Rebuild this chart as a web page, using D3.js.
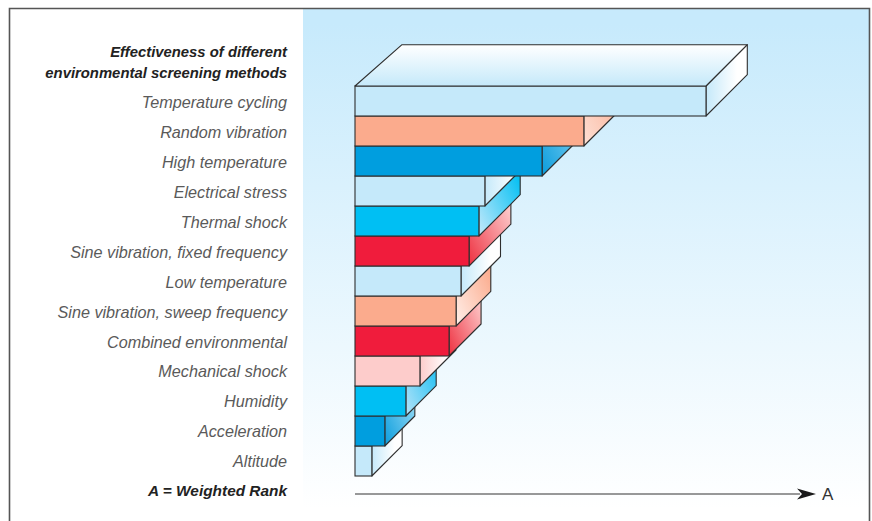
<!DOCTYPE html>
<html><head><meta charset="utf-8">
<script src="https://cdnjs.cloudflare.com/ajax/libs/d3/7.8.5/d3.min.js"></script>
<style>html,body{margin:0;padding:0;background:#fff}svg{display:block}</style>
</head><body><svg id="c" width="872" height="521"></svg>
<script>
const titleLines = ["Effectiveness of different", "environmental screening methods"];
const categories = ["Temperature cycling","Random vibration","High temperature","Electrical stress","Thermal shock","Sine vibration, fixed frequency","Low temperature","Sine vibration, sweep frequency","Combined environmental","Mechanical shock","Humidity","Acceleration","Altitude"];
const values = [100,65.2,53.3,37,35.3,32.5,30.2,28.8,26.8,18.5,14.5,8.5,4.8];
const depths = [41.3,41,41,41,41.3,41.8,39.5,34.7,32,36,30.3,30,30.3];
const frontColors = ["#c5e9fa","#fbab8d","#009edf","#c5e9fa","#00bff3","#f01c3c","#c5e9fa","#fbab8d","#f01c3c","#fdcccb","#00bff3","#009edf","#c5e9fa"];
const sideStart = ["#c5e9fa","#fde0d5","#0b9ddd","#c5e9fa","#c5e9fa","#ee3040","#c5e9fa","#fff0ea","#ee3040","#fdcccb","#b5e3f8","#0b9ddd","#c5e9fa"];
const sideEnd = ["#ffffff","#fbab8d","#8ad4f3","#ffffff","#00bff3","#fdd0d0","#ffffff","#fbab8d","#fdc8c8","#ffffff","#20c0f3","#9adcf6","#ffffff"];
const axisLabel = "A";
const axisTitle = "A = Weighted Rank";

const svg = d3.select("#c");
const defs = svg.append("defs");
const bg = defs.append("linearGradient").attr("id","bg").attr("x1",0).attr("y1",0).attr("x2",0).attr("y2",1);
bg.append("stop").attr("offset",0.03).attr("stop-color","#c7eafc");
bg.append("stop").attr("offset",1).attr("stop-color","#ffffff");
const topG = defs.append("linearGradient").attr("id","topFace").attr("x1",0).attr("y1",0).attr("x2",0).attr("y2",1);
topG.append("stop").attr("offset",0).attr("stop-color","#ffffff");
topG.append("stop").attr("offset",1).attr("stop-color","#c5e9fa");
categories.forEach((c,i)=>{
  const g = defs.append("linearGradient").attr("id","side"+i);
  if(i===0||i===3||i===6||i===9||i===12){g.attr("x1",0).attr("y1",0).attr("x2",0.75).attr("y2",0);}
  else {g.attr("x1",0).attr("y1",1).attr("x2",1).attr("y2",0.15);}
  g.append("stop").attr("offset",0).attr("stop-color",sideStart[i]);
  g.append("stop").attr("offset",1).attr("stop-color",sideEnd[i]);
});

svg.append("rect").attr("x",303).attr("y",9).attr("width",567).attr("height",500).attr("fill","url(#bg)");
svg.append("path").attr("d","M9.5,521V8.5H869.5V521").attr("fill","none").attr("stroke","#555").attr("stroke-width",1.6);

const x = d3.scaleLinear().domain([0,100]).range([355,706]);
const y = d3.scaleBand().domain(categories).range([86,476]).padding(0);
const labelY = d3.scalePoint().domain(categories).range([102.5,461.5]);
const line = d3.line();

// back to front: lowest bar first, each one overlapped by the bar above it
const order = d3.range(categories.length).reverse();
const stroke = "#2e2e2e";
const bars = svg.append("g");
order.forEach(i=>{
  const c = categories[i], r = x(values[i]), t = y(c), b = t + y.bandwidth(), d = depths[i];
  bars.append("path")
    .attr("d", line([[r,t],[r+d,t-d],[r+d,b-d],[r,b]])+"Z")
    .attr("fill",`url(#side${i})`).attr("stroke",stroke).attr("stroke-width",1.1).attr("stroke-linejoin","round");
  bars.append("rect").attr("x",x(0)).attr("y",t).attr("width",r-x(0)).attr("height",y.bandwidth())
    .attr("fill",frontColors[i]).attr("stroke",stroke).attr("stroke-width",1.1);
});
// top face of the leading bar
const top0 = y(categories[0]), r0 = x(values[0]), d0 = depths[0];
bars.append("path")
  .attr("d", line([[x(0),top0],[x(0)+47,top0-d0],[r0+d0,top0-d0],[r0,top0]])+"Z")
  .attr("fill","url(#topFace)").attr("stroke",stroke).attr("stroke-width",1.1).attr("stroke-linejoin","round");

const font = "'Liberation Sans', Arial, sans-serif";
const labels = svg.append("g").attr("font-family",font).attr("font-style","italic").attr("text-anchor","end");
labels.selectAll("text.cat").data(categories).join("text").attr("class","cat")
  .attr("x",287).attr("y",c=>labelY(c)).attr("dy","0.35em")
  .attr("font-size",16.2).attr("fill","#5a5a5a").text(c=>c);
titleLines.forEach((t,i)=>labels.append("text").attr("x",287).attr("y",56.5+i*21)
  .attr("font-size",14.85).attr("font-weight","bold").attr("fill","#222").text(t));
labels.append("text").attr("x",287).attr("y",495.5).attr("font-size",15.4).attr("font-weight","bold").attr("fill","#222").text(axisTitle);

svg.append("line").attr("x1",x(0)).attr("x2",800).attr("y1",494).attr("y2",494).attr("stroke","#333").attr("stroke-width",1);
svg.append("path").attr("d",line([[816,494],[797,499.5],[802,494],[797,488.5]])+"Z").attr("fill","#1a1a1a");
svg.append("text").attr("x",822).attr("y",500).attr("font-family",font).attr("font-size",17).attr("fill","#333").text(axisLabel);
</script></body></html>
